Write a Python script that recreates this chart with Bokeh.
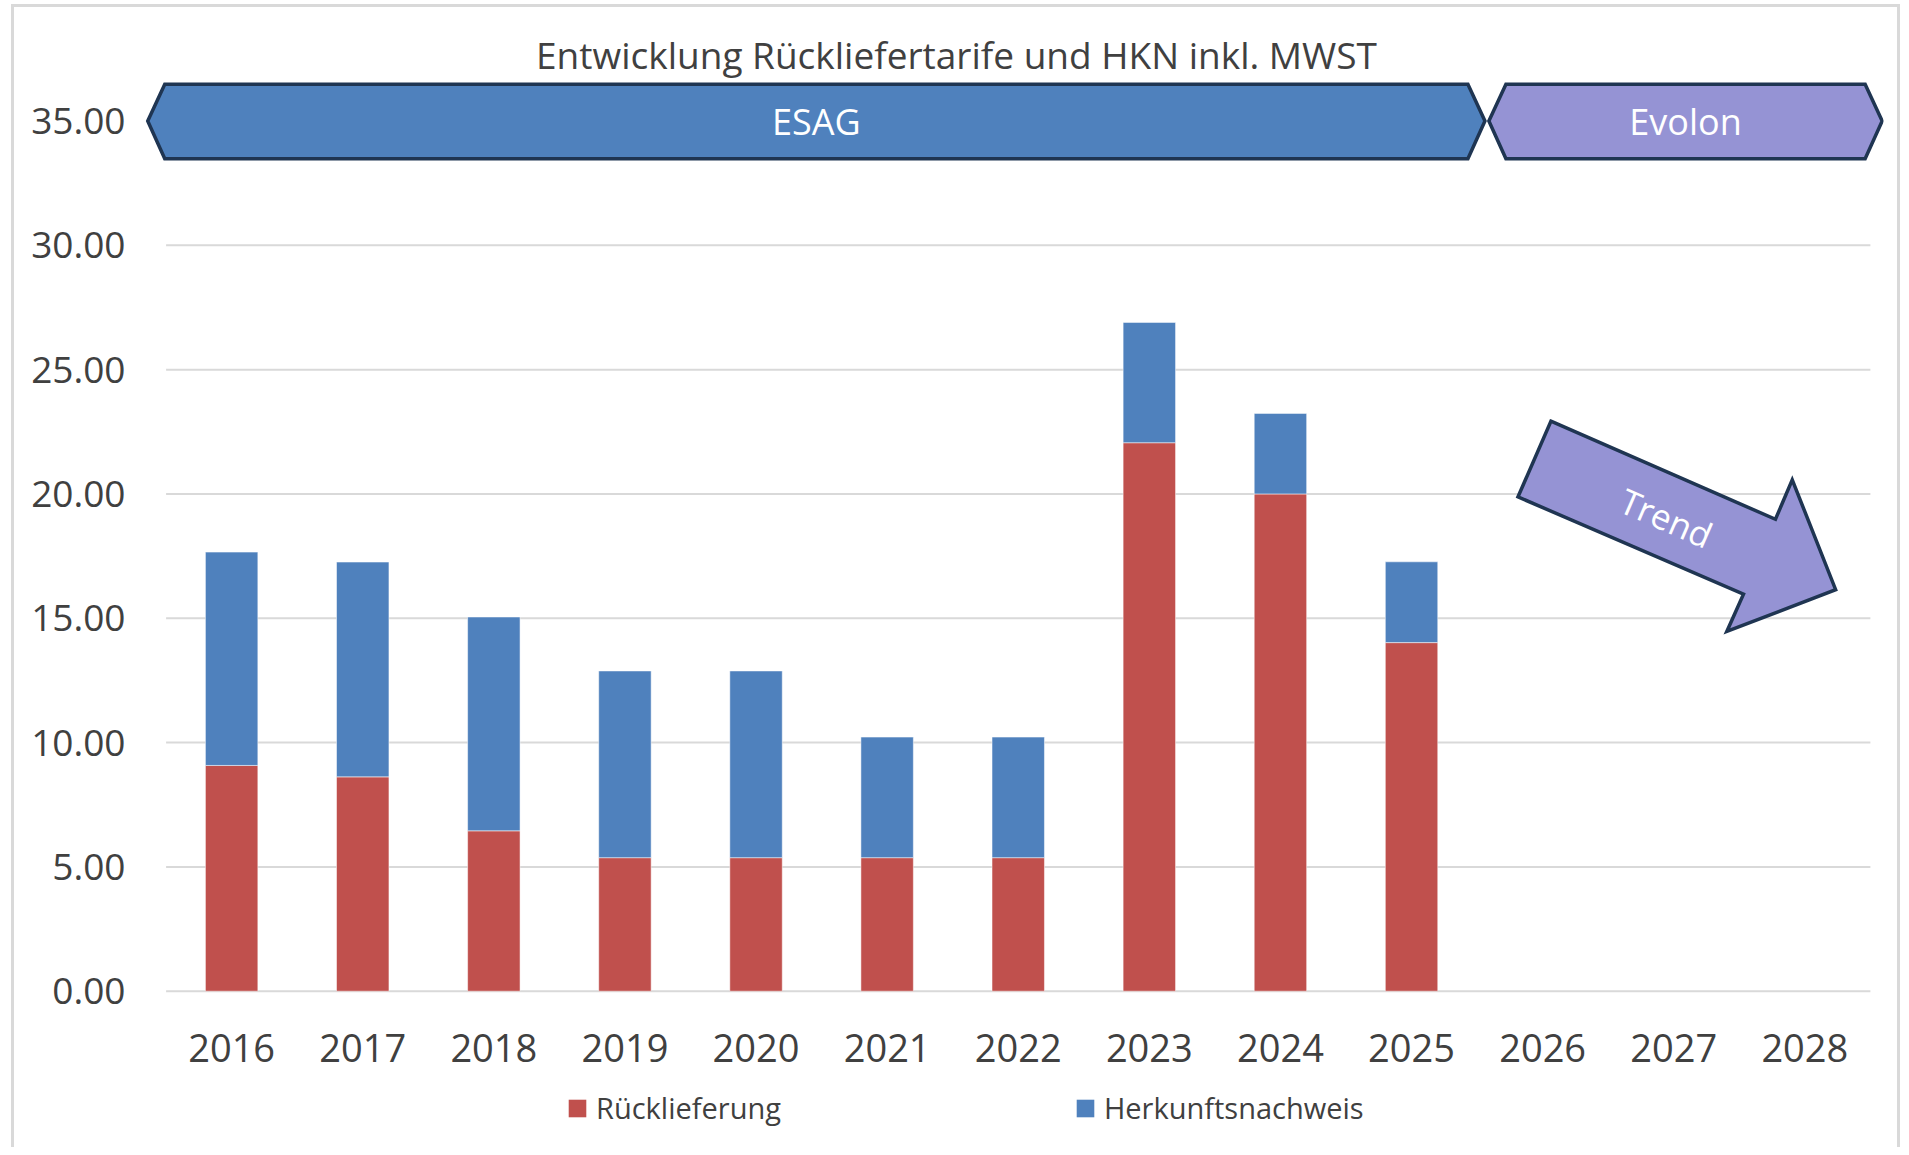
from bokeh.plotting import figure
from bokeh.layouts import column
from bokeh.models import (Range1d, FixedTicker, NumeralTickFormatter, Legend,
                          LegendItem, ColumnDataSource)
from bokeh.core.properties import value
from bokeh.embed import file_html
from bokeh.resources import INLINE

# ---------------- data ----------------
years = ["2016", "2017", "2018", "2019", "2020", "2021", "2022",
         "2023", "2024", "2025", "2026", "2027", "2028"]
data_years = years[:10]
ruecklieferung = [9.08, 8.62, 6.45, 5.37, 5.37, 5.37, 5.37, 22.06, 20.00, 14.02]
herkunftsnachweis = [8.58, 8.64, 8.60, 7.51, 7.51, 4.85, 4.85, 4.84, 3.24, 3.25]
y_ticks = [0, 5, 10, 15, 20, 25, 30, 35]
series_names = ["Rücklieferung", "Herkunftsnachweis"]
title_text = "Entwicklung Rückliefertarife und HKN inkl. MWST"
band_labels = ["ESAG", "Evolon"]

# ---------------- styles ----------------
FONT = "Open Sans"
TXT = "#404040"
RED = "#C0504D"
BLUE = "#4F81BD"
PURPLE = "#9593D4"
NAVY = "#1F3552"
GRID = "#D9D9D9"
W = 1901
H_MAIN = 1075
H_LEG = 72

p = figure(width=W, height=H_MAIN,
           x_range=Range1d(-0.657, 12.6), y_range=Range1d(-0.093, 39.847),
           output_backend="svg", toolbar_location=None,
           min_border_left=145, min_border_right=18,
           min_border_top=0, min_border_bottom=H_MAIN - 993)
p.outline_line_color = None
p.xgrid.visible = False
p.ygrid.visible = False
p.background_fill_color = None
p.border_fill_color = None

# gridlines over the category span
for t in y_ticks[:-1]:
    p.segment(x0=-0.5, x1=len(years) - 0.5, y0=t, y1=t,
              line_color=GRID, line_width=2)

# stacked bars
src = ColumnDataSource(dict(x=list(range(len(data_years))),
                            r=ruecklieferung, h=herkunftsnachweis))
rs = p.vbar_stack(["r", "h"], x="x", width=0.4, source=src,
                  fill_color=[RED, BLUE], line_color="white",
                  line_width=1, line_alpha=0.5)

# banners (chevron shapes)
top, bot, mid = 36.48, 33.48, 35.0
def chevron(x0, x1, tip=0.13):
    return ([x0 - tip, x0, x1, x1 + tip, x1, x0], [mid, top, top, mid, bot, bot])

ex, ey = chevron(-0.51, 9.43)
vx, vy = chevron(9.72, 12.46)
p.patch(ex, ey, fill_color=BLUE, line_color=NAVY, line_width=3.5, line_join="miter")
p.patch(vx, vy, fill_color=PURPLE, line_color=NAVY, line_width=3.5, line_join="miter")
p.text(x=[(-0.51 + 9.43) / 2, (9.72 + 12.46) / 2], y=[mid, mid], text=band_labels,
       text_color="white", text_font=value(FONT), text_font_size="36px",
       text_align="center", text_baseline="middle")

# trend arrow
ax = [10.063, 11.776, 11.904, 12.235, 11.405, 11.532, 9.812]
ay = [22.925, 18.98, 20.57, 16.15, 14.47, 15.97, 19.88]
p.patch(ax, ay, fill_color=PURPLE, line_color=NAVY, line_width=3.5, line_join="miter")
p.text(x=[10.945], y=[19.045], text=["Trend"], angle=-23.5, angle_units="deg",
       text_color="white", text_font=value(FONT), text_font_size="35px",
       text_align="center", text_baseline="middle")

# title
p.text(x=[5.529], y=[37.69], text=[title_text], text_color=TXT,
       text_font=value(FONT), text_font_size="37px",
       text_align="center", text_baseline="middle")

# axes
p.yaxis.ticker = FixedTicker(ticks=y_ticks)
p.yaxis.formatter = NumeralTickFormatter(format="0.00")
p.xaxis.ticker = FixedTicker(ticks=list(range(len(years))))
p.xaxis.major_label_overrides = {i: y for i, y in enumerate(years)}
for ax_ in (p.xaxis, p.yaxis):
    ax_.axis_line_color = None
    ax_.major_tick_line_color = None
    ax_.minor_tick_line_color = None
    ax_.major_label_text_font = FONT
    ax_.major_label_text_color = TXT
p.yaxis.major_label_standoff = 14
p.xaxis.major_label_standoff = 34
p.yaxis.major_label_text_font_size = "37px"
p.xaxis.major_label_text_font_size = "38px"

# legend strip (separate figure beneath the chart; its frame aligns with the chart's)
p2 = figure(width=W, height=H_LEG, x_range=Range1d(0, W), y_range=Range1d(0, H_LEG),
            x_axis_type=None, y_axis_type=None,
            output_backend="svg", toolbar_location=None,
            min_border_left=0, min_border_right=0, min_border_top=0, min_border_bottom=0)
p2.grid.visible = False
p2.outline_line_color = None
p2.background_fill_color = None
p2.border_fill_color = None
lr = [p2.vbar(x=[-1000], top=[-1000], bottom=[-1001], width=1, fill_color=c,
              line_color=None) for c in (RED, BLUE)]
legend = Legend(items=[LegendItem(label=series_names[0], renderers=[lr[0]]),
                       LegendItem(label=series_names[1], renderers=[lr[1]])],
                orientation="horizontal", location=(421, 20),
                glyph_width=22, glyph_height=22, label_standoff=8,
                spacing=293, padding=0, margin=0,
                border_line_color=None, background_fill_alpha=0,
                label_text_font=FONT, label_text_font_size="29px",
                label_text_color=TXT)
p2.add_layout(legend, "center")

frame_css = ("linear-gradient(#D9D9D9,#D9D9D9) 11px 4px / 3px 100% no-repeat, "
             "linear-gradient(#D9D9D9,#D9D9D9) 11px 4px / 1889px 3px no-repeat, "
             "linear-gradient(#D9D9D9,#D9D9D9) 1897px 4px / 3px 100% no-repeat, white")
layout = column(p, p2, spacing=0, styles={"background": frame_css})

open("out.html", "w").write(file_html(layout, INLINE))
